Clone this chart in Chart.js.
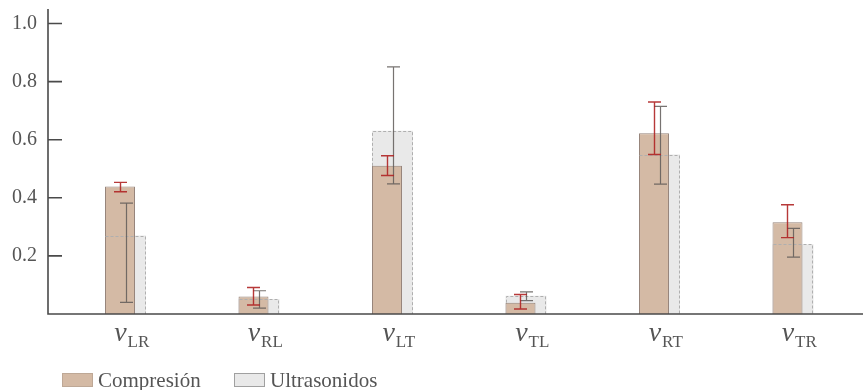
<!DOCTYPE html>
<html><head><meta charset="utf-8">
<script src="https://cdn.jsdelivr.net/npm/chart.js@4"></script>
<style>html,body{margin:0;padding:0;background:#fff;}</style>
</head><body>
<canvas id="c" width="863" height="390"></canvas>
<script>
// ---- data ----
const categories = ['LR', 'RL', 'LT', 'TL', 'RT', 'TR'];
const seriesNames = ['Compresión', 'Ultrasonidos'];
const compValues = [0.439, 0.060, 0.510, 0.039, 0.622, 0.316];
const compLow    = [0.421, 0.031, 0.477, 0.017, 0.549, 0.263];
const compHigh   = [0.453, 0.091, 0.545, 0.067, 0.730, 0.376];
const ultraValues = [0.270, 0.052, 0.631, 0.063, 0.549, 0.240];
const ultraLow    = [0.040, 0.020, 0.448, 0.046, 0.447, 0.196];
const ultraHigh   = [0.382, 0.080, 0.851, 0.076, 0.715, 0.295];
const yTicks = [0.2, 0.4, 0.6, 0.8, 1.0];
const yMax = 1.05;

const SERIF = '"Liberation Serif", "Times New Roman", serif';
const TXT = '#555';
const AXIS = '#4a4a4a';
const TAN = 'rgb(212,186,165)';
const TAN_BORDER = 'rgb(150,132,122)';
const GREY = 'rgb(233,233,233)';
const GREY_BORDER = 'rgb(175,175,175)';

const decor = {
  id: 'decor',
  afterDatasetsDraw(chart) {
    const ctx = chart.ctx;
    const ys = chart.scales.y;
    const mc = chart.getDatasetMeta(0);
    const mu = chart.getDatasetMeta(1);
    // dashed outlines of the ultrasound bars (drawn over the compression bars)
    ctx.save();
    ctx.strokeStyle = GREY_BORDER; ctx.lineWidth = 1; ctx.setLineDash([3, 2]);
    mu.data.forEach((bar, i) => {
      const p = bar.getProps(['x', 'y', 'base', 'width'], true);
      const l = Math.round(p.x - p.width / 2) + 0.5;
      const r = Math.round(p.x + p.width / 2) - 0.5;
      const t = Math.round(p.y) + 0.5;
      const tanTop = mc.data[i].getProps(['y'], true).y;
      ctx.beginPath();
      if (t < tanTop) { ctx.moveTo(l, tanTop); ctx.lineTo(l, t); } else { ctx.moveTo(l, t); }
      ctx.lineTo(r, t); ctx.lineTo(r, p.base); ctx.stroke();
    });
    ctx.restore();
    // error bars
    const drawErr = (meta, lows, highs, color, lw) => {
      ctx.save();
      ctx.strokeStyle = color; ctx.lineWidth = lw;
      meta.data.forEach((bar, i) => {
        const x = Math.round(bar.getProps(['x'], true).x) + 0.5;
        const y1 = ys.getPixelForValue(lows[i]);
        const y2 = ys.getPixelForValue(highs[i]);
        const cw = 6.5;
        ctx.beginPath();
        ctx.moveTo(x, y1); ctx.lineTo(x, y2);
        ctx.moveTo(x - cw, y1); ctx.lineTo(x + cw, y1);
        ctx.moveTo(x - cw, y2); ctx.lineTo(x + cw, y2);
        ctx.stroke();
      });
      ctx.restore();
    };
    drawErr(mu, ultraLow, ultraHigh, 'rgba(95,90,88,0.85)', 1.2);
    drawErr(mc, compLow, compHigh, 'rgba(175,35,35,0.9)', 1.4);
  },
  afterDraw(chart) {
    const ctx = chart.ctx;
    const ca = chart.chartArea;
    const ys = chart.scales.y, xs = chart.scales.x;
    const axX = ca.left - 8;
    const base = ys.getPixelForValue(0);
    ctx.save();
    ctx.strokeStyle = AXIS; ctx.lineWidth = 1.6;
    ctx.beginPath();
    ctx.moveTo(axX, ca.top); ctx.lineTo(axX, base);
    ctx.moveTo(axX - 0.8, base); ctx.lineTo(chart.width, base);
    yTicks.forEach(v => {
      const py = ys.getPixelForValue(v);
      ctx.moveTo(axX, py); ctx.lineTo(axX + 14, py);
    });
    ctx.stroke();
    // category labels: italic nu with subscript
    ctx.fillStyle = TXT;
    ctx.textBaseline = 'alphabetic';
    ctx.textAlign = 'left';
    categories.forEach((c, i) => {
      const cx = xs.getPixelForValue(i);
      ctx.font = 'italic 28px ' + SERIF;
      const nuW = ctx.measureText('ν').width;
      ctx.font = '17px ' + SERIF;
      const subW = ctx.measureText(c).width;
      const left = cx + 9 - (nuW + subW + 1) / 2;
      ctx.font = 'italic 28px ' + SERIF;
      ctx.fillText('ν', left, 341);
      ctx.font = '17px ' + SERIF;
      ctx.fillText(c, left + nuW + 1, 347);
    });
    // legend
    const items = [
      {x: 62, ds: chart.data.datasets[0], edge: 'rgb(190,168,150)'},
      {x: 234, ds: chart.data.datasets[1], edge: 'rgb(160,160,160)'}
    ];
    items.forEach(it => {
      ctx.fillStyle = it.ds.backgroundColor;
      ctx.fillRect(it.x, 373, 31, 14);
      ctx.strokeStyle = it.edge;
      ctx.lineWidth = 1;
      ctx.strokeRect(it.x + 0.5, 373.5, 30, 13);
      ctx.fillStyle = TXT;
      ctx.font = '21px ' + SERIF;
      ctx.fillText(it.ds.label, it.x + 36, 387);
    });
    ctx.restore();
  }
};

new Chart(document.getElementById('c'), {
  type: 'bar',
  data: {
    labels: categories,
    datasets: [
      {
        label: seriesNames[0], data: compValues, stack: 'comp', order: 0,
        backgroundColor: TAN, borderColor: TAN_BORDER, borderWidth: 1,
        categoryPercentage: 0.0824, barPercentage: 5.45
      },
      {
        label: seriesNames[1], data: ultraValues, stack: 'ultra', order: 1,
        backgroundColor: GREY, borderWidth: 0,
        categoryPercentage: 0.0824, barPercentage: 7.45
      }
    ]
  },
  options: {
    responsive: false,
    animation: false,
    devicePixelRatio: 1,
    layout: { padding: { top: 9, right: 6, left: 0, bottom: 0 } },
    plugins: { legend: { display: false }, tooltip: { enabled: false } },
    scales: {
      x: {
        grid: { display: false, drawTicks: false },
        border: { display: false },
        ticks: { display: false },
        afterFit: s => { s.height = 76; s.paddingLeft = 0; s.paddingRight = 0; }
      },
      y: {
        stacked: false,
        min: 0, max: yMax,
        grid: { display: false, drawTicks: false },
        border: { display: false },
        afterBuildTicks: s => { s.ticks = yTicks.map(v => ({ value: v })); },
        ticks: {
          padding: 19,
          color: TXT,
          font: { family: SERIF, size: 20 },
          callback: v => Number(v).toFixed(1)
        },
        afterFit: s => { s.width = 56; s.paddingTop = 0; s.paddingBottom = 0; }
      }
    }
  },
  plugins: [decor]
});
</script>
</body></html>
